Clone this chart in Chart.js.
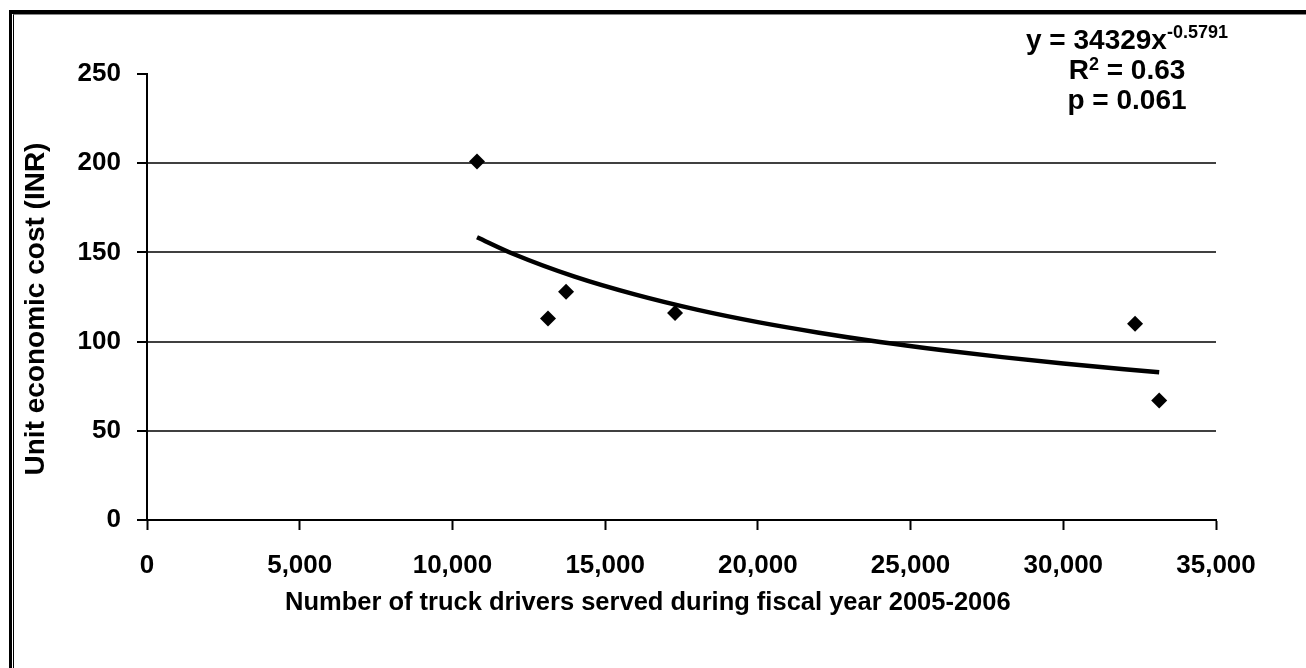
<!DOCTYPE html>
<html>
<head>
<meta charset="utf-8">
<script src="https://cdn.jsdelivr.net/npm/chart.js@4.4.1/dist/chart.umd.min.js"></script>
<style>
    body { margin: 0; background: #fff; }
    #wrap { position: relative; width: 1306px; height: 668px; overflow: hidden;
            font-family: "Liberation Sans", Arial, sans-serif; font-weight: bold; color: #000; }
    #chart { position: absolute; left: 0; top: 0; }
    #frame { position: absolute; left: 9px; top: 10px; width: 1400px; height: 800px;
             border-left: 3px solid #000; border-top: 4px solid #000; }
    #frame div { position: absolute; left: 1px; top: 0; width: 1400px; height: 800px;
                 border-left: 1px solid #000; border-top: 1px solid #888; }
    #eq { position: absolute; left: 997px; top: 25px; width: 260px; text-align: center;
          font-size: 28px; line-height: 30px; }
    #eq sup { font-size: 18px; vertical-align: 11px; line-height: 0; }
    #eq .sq { font-size: 18px; vertical-align: 9px; line-height: 0; }
    #xtitle { position: absolute; left: 285px; top: 586px; font-size: 25.5px; line-height: 30px;
              white-space: nowrap; }
    #ytitle { position: absolute; left: -165px; top: 292px; width: 400px; height: 34px;
              font-size: 28px; line-height: 34px; text-align: center; white-space: nowrap;
              transform: rotate(-90deg); }
</style>
</head>
<body>
<div id="wrap">
    <canvas id="chart" width="1306" height="668"></canvas>
    <div id="frame"><div></div></div>
    <div id="eq">y = 34329x<sup>-0.5791</sup><br>R<span class="sq">2</span> = 0.63<br>p = 0.061</div>
    <div id="xtitle">Number of truck drivers served during fiscal year 2005-2006</div>
    <div id="ytitle">Unit economic cost (INR)</div>
</div>
<script>
// observed points
const driversServed = [10805, 13130, 13720, 17290, 32350, 33140];
const unitCost = [201, 113, 128, 116, 110, 67];

// power trend line
const trendX = [10805, 12000, 14000, 16000, 18000, 20000, 22000, 24000, 26000, 28000, 30000, 32000, 33140];
const trendY = [158.5, 149.1, 136.4, 126.3, 117.9, 110.9, 105.0, 99.8, 95.3, 91.3, 87.7, 84.5, 82.8];

const xTicks = [0, 5000, 10000, 15000, 20000, 25000, 30000, 35000];
const yTicks = [0, 50, 100, 150, 200, 250];

Chart.defaults.font.family = '"Liberation Sans", Arial, sans-serif';
Chart.defaults.font.weight = 'bold';
Chart.defaults.font.size = 26;
Chart.defaults.color = '#000';

new Chart(document.getElementById('chart').getContext('2d'), {
    type: 'scatter',
    data: {
        datasets: [
            {
                label: 'Unit cost',
                data: driversServed.map((x, i) => ({x: x, y: unitCost[i]})),
                pointStyle: 'rectRot',
                pointRadius: 8,
                backgroundColor: '#000',
                borderColor: '#000',
                borderWidth: 0,
                order: 1,
            },
            {
                label: 'Power trend',
                data: trendX.map((x, i) => ({x: x, y: trendY[i]})),
                showLine: true,
                cubicInterpolationMode: 'monotone',
                borderColor: '#000',
                borderWidth: 4.5,
                pointRadius: 0,
                order: 2,
            },
        ],
    },
    options: {
        responsive: false,
        animation: false,
        devicePixelRatio: 1,
        layout: {
            padding: {left: 17, top: 74, right: 90, bottom: 49},
        },
        plugins: {
            legend: {display: false},
            tooltip: {enabled: false},
        },
        scales: {
            x: {
                type: 'linear',
                min: 0,
                max: 35000,
                afterBuildTicks: scale => { scale.ticks = xTicks.map(v => ({value: v})); },
                afterFit: scale => { scale.height = 99; },
                ticks: {
                    padding: 20,
                    maxRotation: 0,
                    callback: v => v.toLocaleString('en-US'),
                },
                grid: {
                    drawOnChartArea: false,
                    tickLength: 10,
                    tickColor: '#000',
                    tickWidth: 2,
                },
                border: {color: '#000', width: 2},
            },
            y: {
                min: 0,
                max: 250,
                afterBuildTicks: scale => { scale.ticks = yTicks.map(v => ({value: v})); },
                afterFit: scale => { scale.width = 130; },
                ticks: {padding: 16},
                grid: {
                    color: ctx => (ctx.tick && (ctx.tick.value === 250 || ctx.tick.value === 0)) ? 'rgba(0,0,0,0)' : '#404040',
                    lineWidth: 2,
                    tickLength: 10,
                    tickColor: '#000',
                    tickWidth: 2,
                },
                border: {color: '#000', width: 2},
            },
        },
    },
});
</script>
</body>
</html>
